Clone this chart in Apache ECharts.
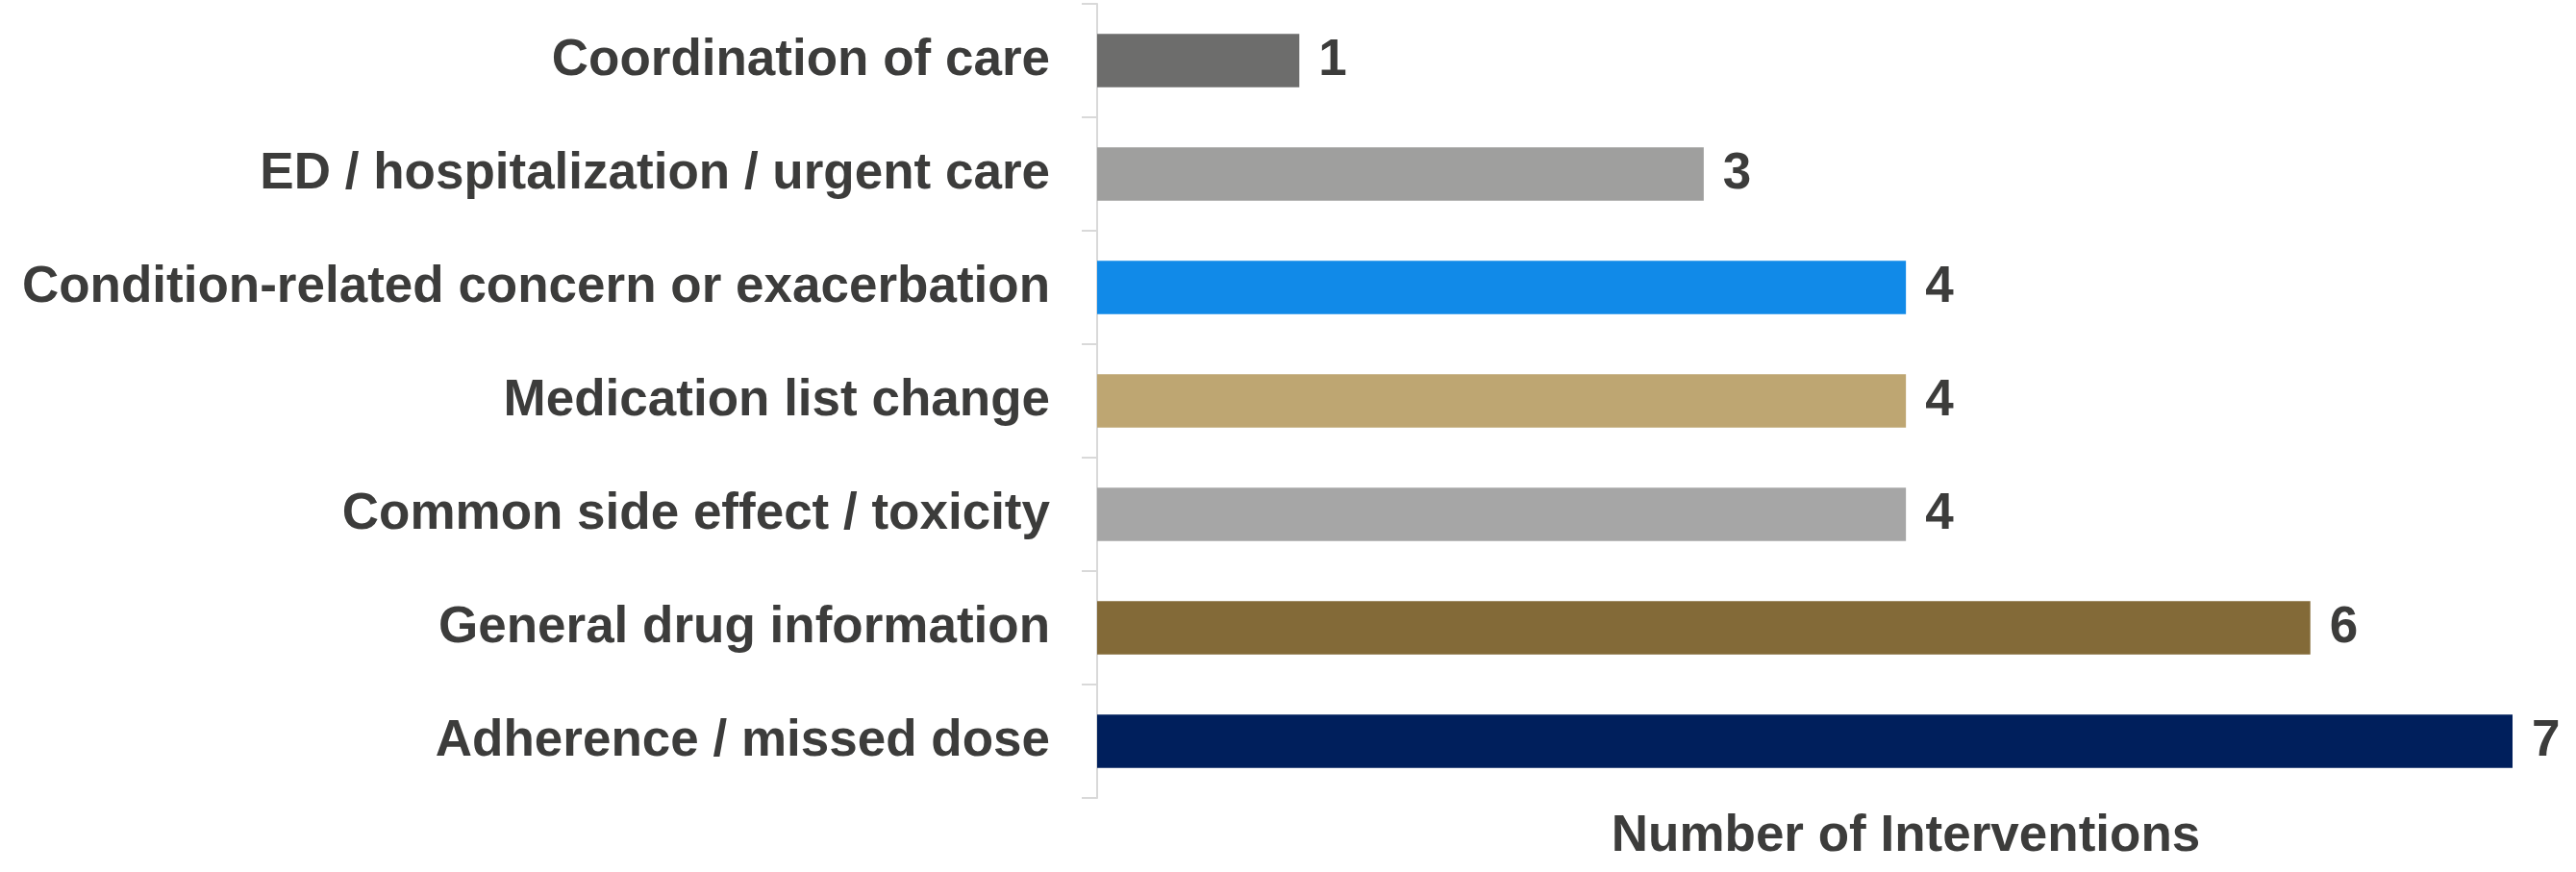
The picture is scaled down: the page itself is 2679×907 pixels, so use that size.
<!DOCTYPE html>
<html>
<head>
<meta charset="utf-8">
<script src="https://cdn.jsdelivr.net/npm/echarts@6/dist/echarts.min.js"></script>
<style>html,body{margin:0;padding:0;background:#fff}#c{width:2679px;height:907px}</style>
</head>
<body>
<div id="c"></div>
<script>
const categories = [
  "Coordination of care",
  "ED / hospitalization / urgent care",
  "Condition-related concern or exacerbation",
  "Medication list change",
  "Common side effect / toxicity",
  "General drug information",
  "Adherence / missed dose"
];
const values = [1, 3, 4, 4, 4, 6, 7];
const barColors = ["#6d6d6c", "#9f9f9e", "#118ae8", "#bea672", "#a6a6a6", "#836a38", "#001f5c"];
const axisTitle = "Number of Interventions";

const FONT = '"Liberation Sans", Arial, sans-serif';
const TXT = '#3c3c3b';

const chart = echarts.init(document.getElementById('c'));
chart.setOption({
  animation: false,
  backgroundColor: '#ffffff',
  grid: { left: 1141, right: 66, top: 4, bottom: 77, containLabel: false },
  xAxis: {
    type: 'value', min: 0, max: 7,
    axisLine: { show: false }, axisTick: { show: false },
    axisLabel: { show: false }, splitLine: { show: false },
    name: axisTitle, nameLocation: 'middle', nameGap: 14,
    nameTextStyle: { fontFamily: FONT, fontWeight: 'bold', fontSize: 53, color: TXT, verticalAlign: 'top', padding: [0, 0, 0, 210] }
  },
  yAxis: {
    type: 'category', inverse: true, data: categories,
    axisLine: { show: true, lineStyle: { color: '#d9d9d9', width: 2 } },
    axisTick: { show: true, length: 16, lineStyle: { color: '#d9d9d9', width: 2 } },
    axisLabel: { margin: 49, fontFamily: FONT, fontWeight: 'bold', fontSize: 53, color: TXT, padding: [3, 0, 0, 0] },
    splitLine: { show: false }
  },
  series: [{
    type: 'bar',
    barCategoryGap: '53%',
    data: values.map((v, i) => ({ value: v, itemStyle: { color: barColors[i] } })),
    label: { show: true, position: 'right', distance: 20, fontFamily: FONT, fontWeight: 'bold', fontSize: 53, color: TXT, padding: [3, 0, 0, 0] }
  }]
});
</script>
</body>
</html>
